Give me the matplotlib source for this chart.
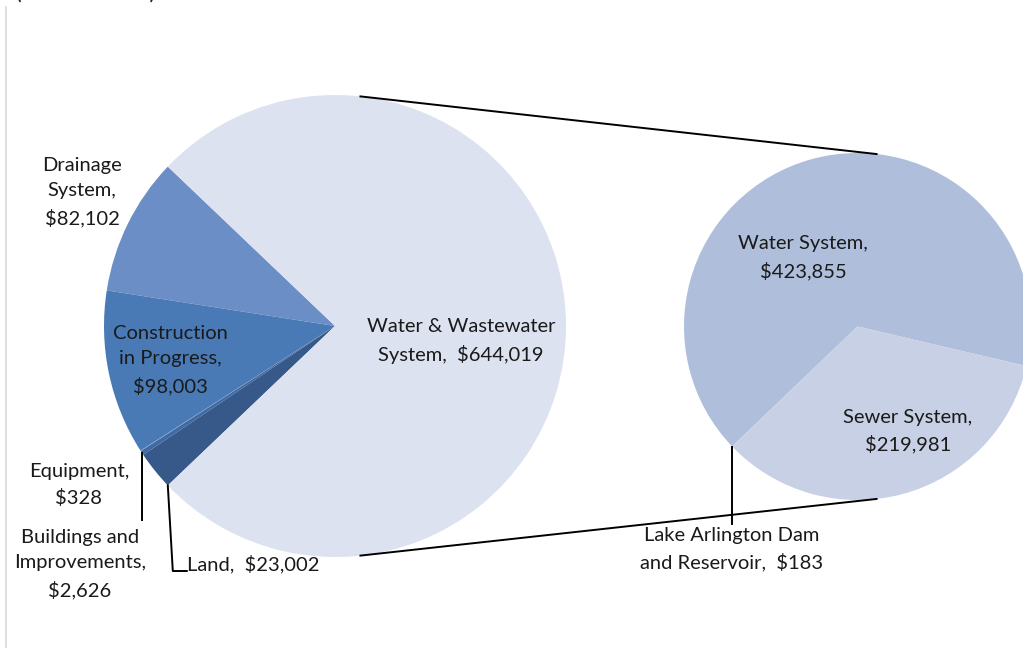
import numpy as np
import matplotlib.pyplot as plt

plt.rcParams['font.family'] = ['Lato', 'DejaVu Sans']

# capital assets by type (in thousands)
main_labels = ["Drainage\nSystem", "Construction\nin Progress", "Equipment",
               "Buildings and\nImprovements", "Land", "Water & Wastewater\nSystem"]
main_values = [82102, 98003, 328, 2626, 23002, 644019]
main_colors = ["#6A8EC5", "#4A7AB6", "#5F8BC3", "#3F6AA3", "#36598A", "#DCE2EF"]

# breakdown of the water & wastewater slice
sub_labels = ["Water System", "Lake Arlington Dam\nand Reservoir", "Sewer System"]
sub_values = [423855, 183, 219981]
sub_colors = ["#AFBFDB", "#B8C6DF", "#C7D0E4"]

W, H = 1023, 648
c1, r1 = (335, H - 326), 231
c2, r2 = (857.5, H - 326.5), 173.5

fig = plt.figure(figsize=(W / 100, H / 100), dpi=100)
ax = fig.add_axes([0, 0, 1, 1])

# first pie: the big slice is centred on the right side
share = main_values[-1] / sum(main_values)
start1 = 180 * share
w1, _ = ax.pie(main_values, colors=main_colors, startangle=start1, counterclock=True,
               center=c1, radius=r1, wedgeprops=dict(linewidth=0))

# second pie
start2 = -13.2
w2, _ = ax.pie(sub_values, colors=sub_colors, startangle=start2, counterclock=True,
               center=c2, radius=r2, wedgeprops=dict(linewidth=0))

ax.set_xlim(0, W)
ax.set_ylim(0, H)
ax.set_aspect('equal')
ax.axis('off')

# series lines: outer tangents between the two circles
d = c2[0] - c1[0]
alpha = np.arcsin((r1 - r2) / d)
for s in (1, -1):
    a = s * (np.pi / 2 - alpha)
    p1 = (c1[0] + r1 * np.cos(a), c1[1] + r1 * np.sin(a))
    p2 = (c2[0] + r2 * np.cos(a), c2[1] + r2 * np.sin(a))
    ax.plot([p1[0], p2[0]], [p1[1], p2[1]], color="black", lw=1.4)


def fmt(label, v, sep=",\n"):
    return f"{label}{sep}${v:,.0f}"


def edge(wedge, frac, c, r):
    ang = np.radians(wedge.theta1 + frac * (wedge.theta2 - wedge.theta1))
    return c[0] + r * np.cos(ang), c[1] + r * np.sin(ang)


fs = 14.5
txt = dict(fontsize=fs, linespacing=1.6, ha="center", va="center", color="#1a1a1a")

ax.text(82, H - 192, fmt(main_labels[0], main_values[0]), **txt)
ax.text(170, H - 360, fmt(main_labels[1], main_values[1]), **txt)
ax.text(79, H - 485, fmt(main_labels[2], main_values[2]), **txt)
ax.text(80, H - 564, fmt(main_labels[3], main_values[3]), **txt)
ax.text(187, H - 564, fmt(main_labels[4], main_values[4], ",  "),
        fontsize=fs, ha="left", va="center", color="#1a1a1a")
ax.text(461, H - 341, fmt(main_labels[5], main_values[5], ",  "), **txt)

ax.text(803, H - 258, fmt(sub_labels[0], sub_values[0]), **txt)
ax.text(732, H - 549, fmt(sub_labels[1], sub_values[1], ",  "), **txt)
ax.text(908, H - 431, fmt(sub_labels[2], sub_values[2]), **txt)

# leader lines
bx, by = edge(w1[3], 0.5, c1, r1)
ax.plot([bx, bx], [by, H - 520], color="black", lw=1.4)
lx, ly = edge(w1[4], 1.0, c1, r1)
ax.plot([lx, lx + 5, lx + 19], [ly, H - 571, H - 571], color="black", lw=1.4)
kx, ky = edge(w2[1], 0.5, c2, r2)
ax.plot([kx, kx], [ky, H - 524], color="black", lw=1.4)

# chart area border and clipped title
ax.plot([5.5, 5.5], [0, H - 7], color="#D9D9D9", lw=1.2)
ax.text(-6, H + 1, "s  (in thousands)", fontsize=fs + 2, ha="left", va="baseline",
        color="#1a1a1a", clip_on=False)

fig.savefig("out.png", dpi=100)
